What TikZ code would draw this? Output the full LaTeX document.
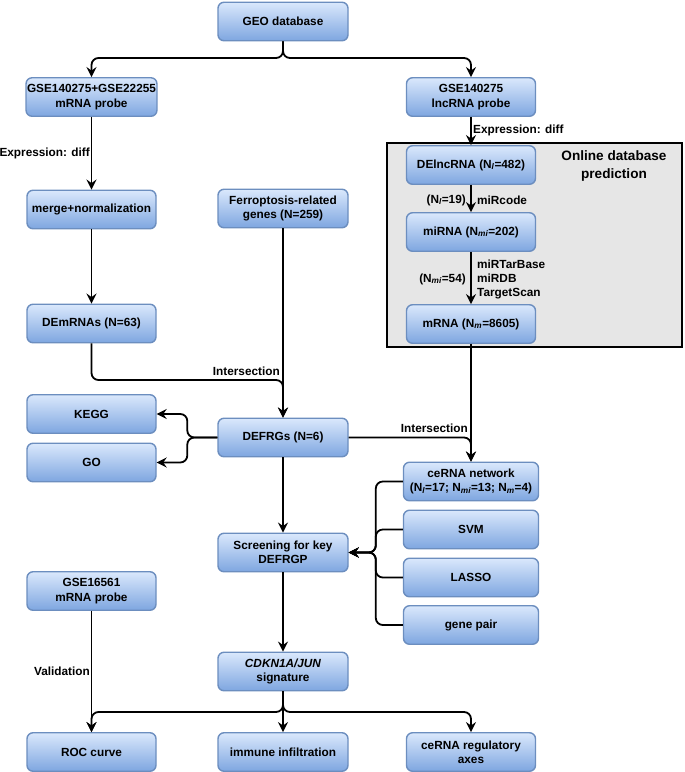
\documentclass[tikz,border=0pt]{standalone}
\usepackage{fontspec}
\setmainfont{Liberation Sans}
\usetikzlibrary{arrows.meta,shapes.geometric}
\definecolor{boxtop}{HTML}{DAE8FC}
\definecolor{boxbot}{HTML}{7EA6E0}
\definecolor{boxline}{HTML}{6C8EBF}
\definecolor{grayfill}{HTML}{E6E6E6}
\newcommand{\sbi}[1]{\textsubscript{\itshape #1}}
\tikzset{
  box/.style={rectangle, rounded corners=6pt, draw=boxline, line width=1.4pt,
    top color=boxtop, bottom color=boxbot, minimum width=129pt, minimum height=38.5pt,
    inner sep=1pt, align=center, font=\fontsize{11.8}{14.3}\selectfont\bfseries},
  wbox/.style={box, minimum width=135pt},
  lbl/.style={inner sep=0pt, font=\fontsize{11.8}{14}\selectfont\bfseries},
  arr/.style={line width=1.8pt, rounded corners=7pt, -{Stealth[length=10pt,width=10pt,inset=3.5pt]}},
  ln/.style={line width=1.8pt, rounded corners=7pt}
}
\begin{document}
\begin{tikzpicture}[x=1pt,y=-1pt]
\useasboundingbox (0,0) rectangle (685,772);
% gray region
\node (pred) [rectangle, draw=black, line width=1.6pt, fill=grayfill, minimum width=295pt, minimum height=204pt, inner sep=0pt] at (534.5,245) {};
\node (predlbl) [inner sep=0pt, align=center, font=\fontsize{13.6}{17.3}\selectfont\bfseries] at (614,166) {Online database\\prediction};
% boxes
\node (geo) [box, minimum width=130pt] at (283,21.5) {GEO database};
\node (gse1) [box] at (91.5,97) {GSE140275+GSE22255\\mRNA probe};
\node (lnc) [box] at (471,97) {GSE140275\\lncRNA probe};
\node (merge) [box] at (91.5,209.5) {merge+normalization};
\node (ferro) [box, minimum width=130pt] at (283,208.5) {Ferroptosis-related\\genes (N=259)};
\node (delnc) [box] at (471,165) {DElncRNA (N\sbi{l}=482)};
\node (mirna) [box] at (471,232) {miRNA (N\sbi{mi}=202)};
\node (mrna) [box] at (471,324) {mRNA (N\sbi{m}=8605)};
\node (demrna) [box] at (91.5,323.5) {DEmRNAs (N=63)};
\node (kegg) [box] at (91.5,414) {KEGG};
\node (go) [box] at (91.5,462.5) {GO};
\node (defrg) [box, minimum width=130pt] at (283,437.5) {DEFRGs (N=6)};
\node (cerna) [wbox] at (471,481.5) {ceRNA network\\(N\sbi{l}=17; N\sbi{mi}=13; N\sbi{m}=4)};
\node (svm) [wbox] at (471,529.5) {SVM};
\node (lasso) [wbox] at (471,577.5) {LASSO};
\node (gpair) [wbox] at (471,625) {gene pair};
\node (screen) [box, minimum width=130pt] at (283,552.5) {Screening for key\\DEFRGP};
\node (gse16) [box] at (91.5,591) {GSE16561\\mRNA probe};
\node (cdkn) [box, minimum width=130pt] at (283,671.5) {\itshape CDKN1A/JUN\\signature};
\node (roc) [box] at (91.5,752) {ROC curve};
\node (immune) [box, minimum width=130pt] at (283,752) {immune infiltration};
\node (axes) [box] at (471,752) {ceRNA regulatory\\axes};
% junctions
\coordinate (j0) at (283,58);
\coordinate (j1) at (283,380);
\coordinate (j2) at (283,712);
% connectors
\draw[arr] (geo.south) -- (j0) -| (gse1.north);
\draw[arr] (geo.south) -- (j0) -| (lnc.north);
\draw[arr] (gse1.south) -- (merge.north);
\draw[arr] (merge.south) -- (demrna.north);
\draw[arr] (lnc.south) -- (delnc.north);
\draw[arr] (delnc.south) -- (mirna.north);
\draw[arr] (mirna.south) -- (mrna.north);
\draw[arr] (demrna.south) |- (j1) -- (defrg.north);
\draw[arr] (ferro.south) -- (defrg.north);
\draw[arr] (mrna.south) -- (cerna.north);
\draw[arr] (defrg.east) -| (cerna.north);
\draw[arr] (defrg.west) -- ++(-30,0) |- (kegg.east);
\draw[arr] (defrg.west) -- ++(-30,0) |- (go.east);
\draw[arr] (defrg.south) -- (screen.north);
\draw[arr] (cerna.west) -- ++(-27,0) |- (screen.east);
\draw[arr] (svm.west) -- ++(-27,0) |- (screen.east);
\draw[arr] (lasso.west) -- ++(-27,0) |- (screen.east);
\draw[arr] (gpair.west) -- ++(-27,0) |- (screen.east);
\draw[arr] (screen.south) -- (cdkn.north);
\draw[arr] (gse16.south) -- (roc.north);
\draw[arr] (cdkn.south) -- (j2) -| (roc.north);
\draw[arr] (cdkn.south) -- (immune.north);
\draw[arr] (cdkn.south) -- (j2) -| (axes.north);
% labels
\node (l1) [lbl, anchor=east] at (90,153) {Expression: diff};
\node (l2) [lbl, anchor=west] at (473,130) {Expression: diff};
\node (l3) [lbl, anchor=east] at (466,200) {(N\sbi{l}=19)};
\node (l4) [lbl, anchor=west] at (477,200) {miRcode};
\node (l5) [lbl, anchor=east] at (466,279) {(N\sbi{mi}=54)};
\node (l6) [lbl, anchor=west, align=left] at (477,279) {miRTarBase\\miRDB\\TargetScan};
\node (l7) [lbl, anchor=east] at (280,371) {Intersection};
\node (l8) [lbl, anchor=east] at (468,428) {Intersection};
\node (l9) [lbl, anchor=east] at (90,671) {Validation};
\end{tikzpicture}
\end{document}
